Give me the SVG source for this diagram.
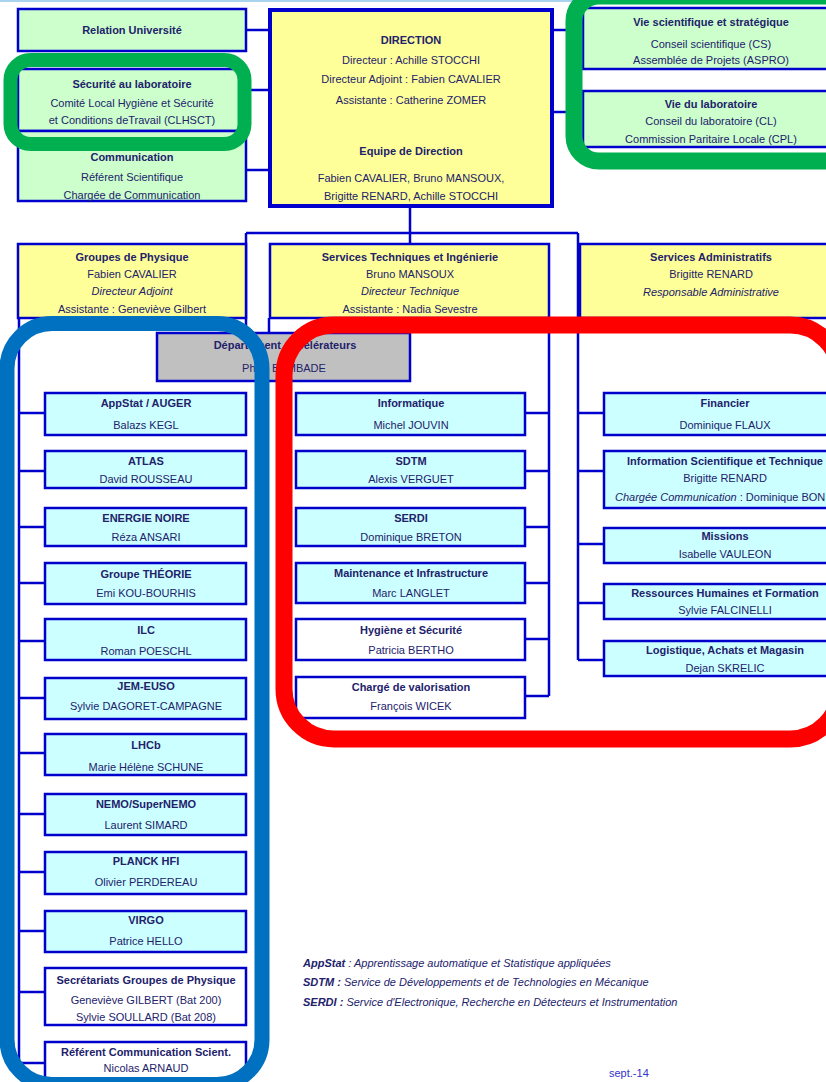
<svg xmlns="http://www.w3.org/2000/svg" width="826" height="1082" viewBox="0 0 826 1082">
<style>
.bx{stroke:#0000cc;stroke-width:2.5}
.g{fill:#ccffcc}.y{fill:#ffff99}.c{fill:#ccffff}.w{fill:#ffffff}.gr{fill:#c0c0c0}
text{font-family:"Liberation Sans",Arial,sans-serif;font-size:11px;fill:#22226b;text-anchor:middle}
.t{font-weight:bold}
.i{font-style:italic}
.fn{font-size:11px;font-style:italic;text-anchor:start}
.cn line{stroke:#0000cc;stroke-width:2.5}
.ov{fill:none}
</style>
<rect width="826" height="1082" fill="#ffffff"/>
<rect x="0" y="0" width="826" height="2" fill="#a8d4f0"/>

<g id="connectors" class="cn">
<line x1="246" y1="30" x2="270" y2="30"/>
<line x1="246" y1="90" x2="270" y2="90"/>
<line x1="246" y1="170" x2="270" y2="170"/>
<line x1="552" y1="30" x2="583" y2="30"/>
<line x1="552" y1="112" x2="583" y2="112"/>
<line x1="410" y1="206" x2="410" y2="244"/>
<line x1="246" y1="233" x2="578" y2="233"/>
<line x1="246" y1="233" x2="246" y2="334"/>
<line x1="269" y1="318" x2="269" y2="334"/>
<line x1="19" y1="318" x2="19" y2="1063"/>
<line x1="19" y1="413" x2="45" y2="413"/>
<line x1="19" y1="471" x2="45" y2="471"/>
<line x1="19" y1="527" x2="45" y2="527"/>
<line x1="19" y1="583" x2="45" y2="583"/>
<line x1="19" y1="641" x2="45" y2="641"/>
<line x1="19" y1="698" x2="45" y2="698"/>
<line x1="19" y1="753" x2="45" y2="753"/>
<line x1="19" y1="814" x2="45" y2="814"/>
<line x1="19" y1="872" x2="45" y2="872"/>
<line x1="19" y1="931" x2="45" y2="931"/>
<line x1="19" y1="992" x2="45" y2="992"/>
<line x1="19" y1="1063" x2="45" y2="1063"/>
<line x1="549" y1="318" x2="549" y2="696"/>
<line x1="525" y1="413" x2="549" y2="413"/>
<line x1="525" y1="471" x2="549" y2="471"/>
<line x1="525" y1="527" x2="549" y2="527"/>
<line x1="525" y1="583" x2="549" y2="583"/>
<line x1="525" y1="639" x2="549" y2="639"/>
<line x1="525" y1="696" x2="549" y2="696"/>
<line x1="578" y1="233" x2="578" y2="660"/>
<line x1="578" y1="413" x2="604" y2="413"/>
<line x1="578" y1="471" x2="604" y2="471"/>
<line x1="578" y1="544" x2="604" y2="544"/>
<line x1="578" y1="603" x2="604" y2="603"/>
<line x1="578" y1="660" x2="604" y2="660"/>
</g>

<g id="relation-universite"><rect class="bx g" x="18" y="9" width="228" height="42"/><text class="t" x="132" y="34">Relation Université</text></g>
<g id="securite"><rect class="bx g" x="18" y="69" width="228" height="62"/><text class="t" x="132" y="88">Sécurité au laboratoire</text><text x="132" y="107">Comité Local Hygiène et Sécurité</text><text x="132" y="124">et Conditions deTravail (CLHSCT)</text></g>
<g id="communication"><rect class="bx g" x="18" y="131" width="228" height="70"/><text class="t" x="132" y="161">Communication</text><text x="132" y="181">Référent Scientifique</text><text x="132" y="199">Chargée de Communication</text></g>

<g id="direction"><rect class="y" x="270" y="10" width="282" height="196" stroke="#0000cc" stroke-width="4"/>
<text class="t" x="411" y="44">DIRECTION</text>
<text x="411" y="64">Directeur : Achille STOCCHI</text>
<text x="411" y="83">Directeur Adjoint : Fabien CAVALIER</text>
<text x="411" y="104">Assistante : Catherine ZOMER</text>
<text class="t" x="411" y="155">Equipe de Direction</text>
<text x="411" y="182">Fabien CAVALIER, Bruno MANSOUX,</text>
<text x="411" y="200">Brigitte RENARD, Achille STOCCHI</text></g>

<g id="vie-scientifique"><rect class="bx g" x="583" y="8" width="258" height="61"/><text class="t" x="711" y="26">Vie scientifique et stratégique</text><text x="711" y="48">Conseil scientifique (CS)</text><text x="711" y="64">Assemblée de Projets (ASPRO)</text></g>
<g id="vie-laboratoire"><rect class="bx g" x="583" y="91" width="258" height="56"/><text class="t" x="711" y="108">Vie du laboratoire</text><text x="711" y="125">Conseil du laboratoire (CL)</text><text x="711" y="143">Commission Paritaire Locale (CPL)</text></g>

<g id="groupes-physique"><rect class="bx y" x="18" y="244" width="228" height="74"/><text class="t" x="132" y="261">Groupes de Physique</text><text x="132" y="278">Fabien CAVALIER</text><text class="i" x="132" y="295">Directeur Adjoint</text><text x="132" y="313">Assistante : Geneviève Gilbert</text></g>
<g id="services-techniques"><rect class="bx y" x="270" y="244" width="279" height="74"/><text class="t" x="410" y="261">Services Techniques et Ingénierie</text><text x="410" y="278">Bruno MANSOUX</text><text class="i" x="410" y="295">Directeur Technique</text><text x="410" y="313">Assistante : Nadia Sevestre</text></g>
<g id="services-administratifs"><rect class="bx y" x="580" y="244" width="262" height="74"/><text class="t" x="711" y="261">Services Administratifs</text><text x="711" y="278">Brigitte RENARD</text><text class="i" x="711" y="296">Responsable Administrative</text></g>

<g id="departement-accelerateurs"><rect class="bx gr" x="157" y="333" width="253" height="48"/><text class="t" x="285" y="349">Département Accélérateurs</text><text x="284" y="372">Philip BAMBADE</text></g>

<g id="appstat"><rect class="bx c" x="45" y="393" width="201" height="42"/><text class="t" x="146" y="407">AppStat / AUGER</text><text x="146" y="429">Balazs KEGL</text></g>
<g id="atlas"><rect class="bx c" x="45" y="451" width="201" height="37"/><text class="t" x="146" y="465">ATLAS</text><text x="146" y="483">David ROUSSEAU</text></g>
<g id="energie-noire"><rect class="bx c" x="45" y="508" width="201" height="38"/><text class="t" x="146" y="522">ENERGIE NOIRE</text><text x="146" y="541">Réza ANSARI</text></g>
<g id="theorie"><rect class="bx c" x="45" y="563" width="201" height="41"/><text class="t" x="146" y="578">Groupe THÉORIE</text><text x="146" y="597">Emi KOU-BOURHIS</text></g>
<g id="ilc"><rect class="bx c" x="45" y="619" width="201" height="41"/><text class="t" x="146" y="634">ILC</text><text x="146" y="655">Roman POESCHL</text></g>
<g id="jem-euso"><rect class="bx c" x="45" y="678" width="201" height="41"/><text class="t" x="146" y="690">JEM-EUSO</text><text x="146" y="710">Sylvie DAGORET-CAMPAGNE</text></g>
<g id="lhcb"><rect class="bx c" x="45" y="734" width="201" height="41"/><text class="t" x="146" y="749">LHCb</text><text x="146" y="771">Marie Hélène SCHUNE</text></g>
<g id="nemo"><rect class="bx c" x="45" y="794" width="201" height="41"/><text class="t" x="146" y="808">NEMO/SuperNEMO</text><text x="146" y="829">Laurent SIMARD</text></g>
<g id="planck"><rect class="bx c" x="45" y="852" width="201" height="42"/><text class="t" x="146" y="865">PLANCK HFI</text><text x="146" y="886">Olivier PERDEREAU</text></g>
<g id="virgo"><rect class="bx c" x="45" y="911" width="201" height="41"/><text class="t" x="146" y="924">VIRGO</text><text x="146" y="945">Patrice HELLO</text></g>
<g id="secretariats"><rect class="bx w" x="45" y="968" width="201" height="57"/><text class="t" x="146" y="984">Secrétariats Groupes de Physique</text><text x="146" y="1004">Geneviève GILBERT (Bat 200)</text><text x="146" y="1021">Sylvie SOULLARD (Bat 208)</text></g>
<g id="referent-communication"><rect class="bx w" x="45" y="1042" width="201" height="45"/><text class="t" x="146" y="1056">Référent Communication Scient.</text><text x="146" y="1072">Nicolas ARNAUD</text></g>

<g id="informatique"><rect class="bx c" x="296" y="393" width="229" height="42"/><text class="t" x="411" y="407">Informatique</text><text x="411" y="429">Michel JOUVIN</text></g>
<g id="sdtm"><rect class="bx c" x="296" y="451" width="229" height="37"/><text class="t" x="411" y="465">SDTM</text><text x="411" y="483">Alexis VERGUET</text></g>
<g id="serdi"><rect class="bx c" x="296" y="508" width="229" height="38"/><text class="t" x="411" y="522">SERDI</text><text x="411" y="541">Dominique BRETON</text></g>
<g id="maintenance"><rect class="bx c" x="296" y="563" width="229" height="40"/><text class="t" x="411" y="577">Maintenance et Infrastructure</text><text x="411" y="597">Marc LANGLET</text></g>
<g id="hygiene"><rect class="bx w" x="296" y="619" width="229" height="41"/><text class="t" x="411" y="634">Hygiène et Sécurité</text><text x="411" y="654">Patricia BERTHO</text></g>
<g id="valorisation"><rect class="bx w" x="296" y="677" width="229" height="41"/><text class="t" x="411" y="691">Chargé de valorisation</text><text x="411" y="710">François WICEK</text></g>

<g id="financier"><rect class="bx c" x="604" y="393" width="242" height="42"/><text class="t" x="725" y="407">Financier</text><text x="725" y="429">Dominique FLAUX</text></g>
<g id="information-scientifique"><rect class="bx c" x="604" y="451" width="242" height="57"/><text class="t" x="725" y="465">Information Scientifique et Technique</text><text x="725" y="482">Brigitte RENARD</text><text x="615" y="501" style="text-anchor:start"><tspan class="i">Chargée Communication</tspan> : Dominique BON</text></g>
<g id="missions"><rect class="bx c" x="604" y="528" width="242" height="35"/><text class="t" x="725" y="540">Missions</text><text x="725" y="558">Isabelle VAULEON</text></g>
<g id="ressources-humaines"><rect class="bx c" x="604" y="584" width="242" height="35"/><text class="t" x="725" y="597">Ressources Humaines et Formation</text><text x="725" y="614">Sylvie FALCINELLI</text></g>
<g id="logistique"><rect class="bx c" x="604" y="641" width="242" height="35"/><text class="t" x="725" y="654">Logistique, Achats et Magasin</text><text x="725" y="672">Dejan SKRELIC</text></g>

<g id="highlights" class="ov">
<rect x="10.5" y="60" width="234" height="84" rx="20" stroke="#00b050" stroke-width="14" fill="none"/>
<rect x="574" y="-4" width="280" height="165" rx="25" stroke="#00b050" stroke-width="17" fill="none"/>
<rect x="7" y="323.5" width="255" height="761" rx="45" stroke="#0070c0" stroke-width="15" fill="none"/>
<rect x="284" y="325" width="556" height="414" rx="50" stroke="#ff0000" stroke-width="17" fill="none"/>
</g>

<g id="footnotes">
<text class="fn" x="303" y="967"><tspan font-weight="bold">AppStat</tspan> : Apprentissage automatique et Statistique appliquées</text>
<text class="fn" x="303" y="986"><tspan font-weight="bold">SDTM :</tspan> Service de Développements et de Technologies en Mécanique</text>
<text class="fn" x="303" y="1006"><tspan font-weight="bold">SERDI :</tspan> Service d'Electronique, Recherche en Détecteurs et Instrumentation</text>
<text x="609" y="1077" style="text-anchor:start;fill:#3333cc">sept.-14</text>
</g>
</svg>
